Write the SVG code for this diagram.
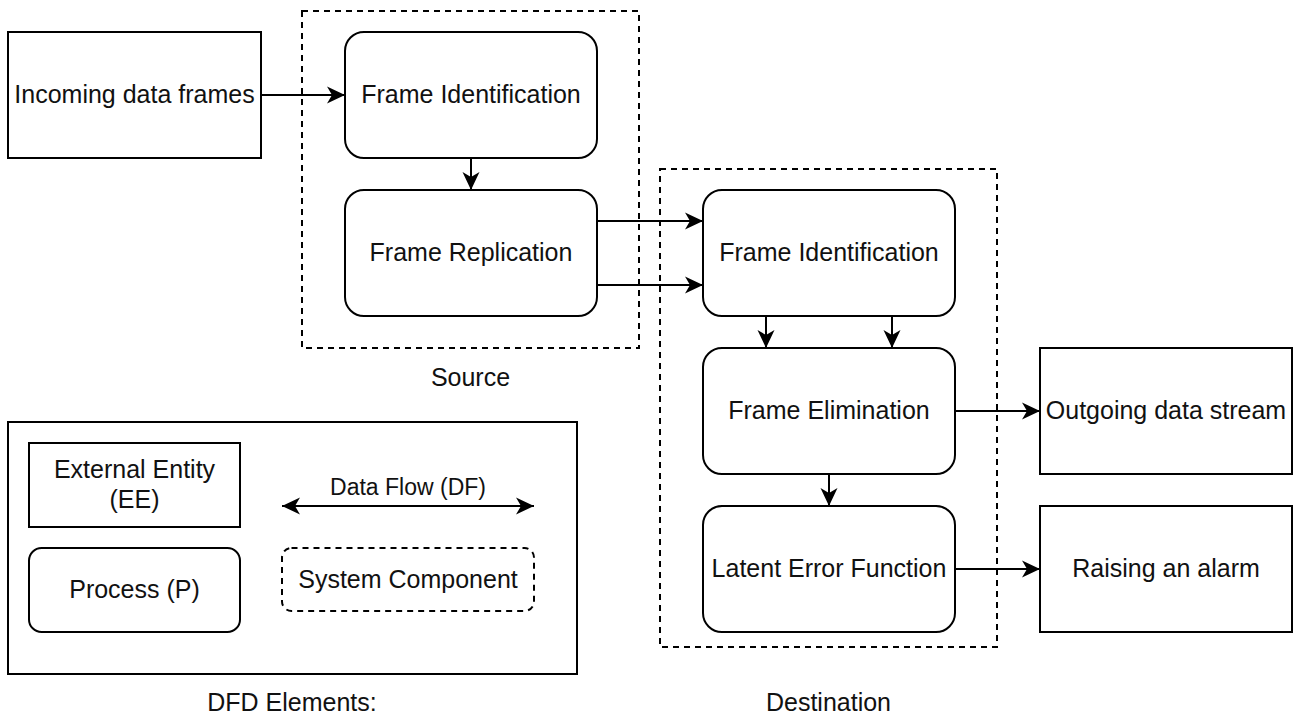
<svg xmlns="http://www.w3.org/2000/svg" width="1293" height="714" viewBox="0 0 1293 714">
  <style>
    .box { fill: #ffffff; stroke: #000000; stroke-width: 2; }
    .group { fill: none; stroke: #000000; stroke-width: 2; stroke-dasharray: 6 5; }
    .flow { fill: none; stroke: #000000; stroke-width: 2; marker-end: url(#head); }
    text { font-family: "Liberation Sans", Arial, sans-serif; font-size: 25px; fill: #111111; text-anchor: middle; }
    .small { font-size: 23px; }
  </style>
  <defs>
    <marker id="head" markerUnits="userSpaceOnUse" viewBox="-20 -10 22 20" markerWidth="22" markerHeight="20" refX="0" refY="0" orient="auto-start-reverse">
      <path d="M0,0 L-18,-8.5 L-13,0 L-18,8.5 Z" fill="#000000"/>
    </marker>
  </defs>
  <rect width="1293" height="714" fill="#ffffff"/>

  <!-- system components (dashed boundaries) -->
  <g id="source">
    <rect class="group" x="302" y="11" width="337" height="337"/>
    <text x="470.5" y="386">Source</text>
  </g>
  <g id="destination">
    <rect class="group" x="660" y="169" width="337" height="478"/>
    <text x="828.5" y="711">Destination</text>
  </g>

  <!-- external entities -->
  <g id="incoming">
    <rect class="box" x="8" y="32" width="253" height="126"/>
    <text x="134.5" y="103">Incoming data frames</text>
  </g>
  <g id="outgoing">
    <rect class="box" x="1040" y="348" width="252" height="126"/>
    <text x="1166" y="419">Outgoing data stream</text>
  </g>
  <g id="alarm">
    <rect class="box" x="1040" y="506" width="252" height="126"/>
    <text x="1166" y="577">Raising an alarm</text>
  </g>

  <!-- processes -->
  <g id="src-identification">
    <rect class="box" x="345" y="32" width="252" height="126" rx="19"/>
    <text x="471" y="103">Frame Identification</text>
  </g>
  <g id="src-replication">
    <rect class="box" x="345" y="190" width="252" height="126" rx="19"/>
    <text x="471" y="261">Frame Replication</text>
  </g>
  <g id="dst-identification">
    <rect class="box" x="703" y="190" width="252" height="126" rx="19"/>
    <text x="829" y="261">Frame Identification</text>
  </g>
  <g id="dst-elimination">
    <rect class="box" x="703" y="348" width="252" height="126" rx="19"/>
    <text x="829" y="419">Frame Elimination</text>
  </g>
  <g id="dst-latent-error">
    <rect class="box" x="703" y="506" width="252" height="126" rx="19"/>
    <text x="829" y="577">Latent Error Function</text>
  </g>

  <!-- data flows -->
  <g id="connectors">
    <path class="flow" d="M261,95 H345"/>
    <path class="flow" d="M471,158 V190"/>
    <path class="flow" d="M597,221 H703"/>
    <path class="flow" d="M597,285 H703"/>
    <path class="flow" d="M766,316 V348"/>
    <path class="flow" d="M892,316 V348"/>
    <path class="flow" d="M829,474 V506"/>
    <path class="flow" d="M955,411 H1040"/>
    <path class="flow" d="M955,569 H1040"/>
  </g>

  <!-- legend -->
  <g id="legend">
    <rect class="box" x="8" y="422" width="569" height="252"/>
    <text x="292" y="711">DFD Elements:</text>
  </g>
  <g id="legend-ee">
    <rect class="box" x="29" y="443" width="211" height="84"/>
    <text x="134.5" y="478">External Entity</text>
    <text x="134.5" y="508">(EE)</text>
  </g>
  <g id="legend-process">
    <rect class="box" x="29" y="548" width="211" height="84" rx="12.6"/>
    <text x="134.5" y="598">Process (P)</text>
  </g>
  <g id="legend-flow">
    <path d="M282,506 H534" fill="none" stroke="#000000" stroke-width="2" marker-start="url(#head)" marker-end="url(#head)"/>
    <text class="small" x="408" y="495">Data Flow (DF)</text>
  </g>
  <g id="legend-component">
    <rect class="group" x="282" y="548" width="252" height="63" rx="9.5"/>
    <text x="408" y="588">System Component</text>
  </g>
</svg>
